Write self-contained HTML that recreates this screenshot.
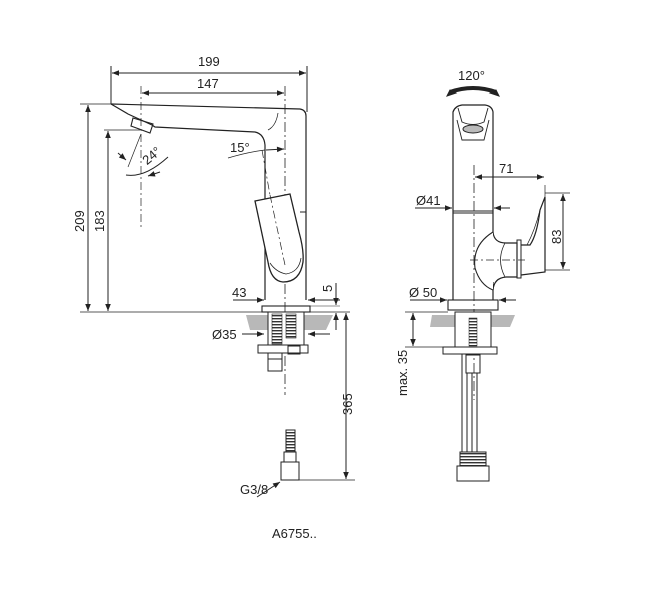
<!DOCTYPE html>
<html><head><meta charset="utf-8"><style>
html,body{margin:0;padding:0;background:#fff;}
svg{display:block;}
text{font-family:"Liberation Sans",sans-serif;font-size:13px;fill:#222;}
</style></head><body>
<svg width="668" height="600" viewBox="0 0 668 600" xmlns="http://www.w3.org/2000/svg">
<defs>
<marker id="a" viewBox="0 0 10 10" refX="10" refY="5" markerWidth="9" markerHeight="7" orient="auto-start-reverse" markerUnits="userSpaceOnUse"><path d="M0,1 L10,5 L0,9 z" fill="#222"/></marker>
<pattern id="th" width="3" height="3" patternUnits="userSpaceOnUse"><rect width="3" height="1.4" fill="#333"/></pattern>
</defs>
<g stroke="#222" stroke-width="1" fill="none">
<!-- LEFT VIEW dims -->
<line x1="111" y1="66" x2="111" y2="104"/>
<line x1="307" y1="66" x2="307" y2="112"/>
<line x1="112" y1="73" x2="306" y2="73" marker-start="url(#a)" marker-end="url(#a)"/>
<line x1="141" y1="86" x2="141" y2="230" stroke-dasharray="8,3,2,3" stroke-width="0.7"/>
<line x1="142" y1="93" x2="284" y2="93" marker-start="url(#a)" marker-end="url(#a)"/>
<line x1="285" y1="86" x2="285" y2="395" stroke-dasharray="10,3,2,3" stroke-width="0.8"/>
<line x1="80" y1="104" x2="111" y2="104" stroke-width="0.7"/>
<line x1="88" y1="105" x2="88" y2="311" marker-start="url(#a)" marker-end="url(#a)"/>
<line x1="104" y1="130" x2="140" y2="130" stroke-width="0.7"/>
<line x1="108" y1="131" x2="108" y2="311" marker-start="url(#a)" marker-end="url(#a)"/>
<line x1="80" y1="312" x2="350" y2="312" stroke-width="0.8"/>
<!-- spout -->
<path d="M111,104 L300,109 Q306,110 306,116 L306,300" stroke-width="1.2"/>
<path d="M111,104 L128,114 L152,125 L155,127 L255,132 Q264,134 265,145 L265,300" stroke-width="1.2"/>
<path d="M278,113 Q276,126 268,130" stroke-width="0.8"/>
<path d="M133,118 L153,124 L150,133 L131,126 z" stroke-width="1.1"/>
<!-- 24 deg -->
<path d="M126,175 Q145,178 168,157" />
<line x1="141" y1="134" x2="128" y2="167" stroke-width="0.7"/>
<line x1="118" y1="153" x2="126" y2="160" marker-end="url(#a)"/>
<line x1="160" y1="172" x2="148" y2="176" marker-end="url(#a)"/>
<!-- 15 deg -->
<path d="M228,158 Q248,152 265,150" stroke-width="0.7"/>
<line x1="266" y1="150" x2="284" y2="149" marker-end="url(#a)"/>
<line x1="262" y1="150" x2="270" y2="195" stroke-dasharray="8,3,2,3" stroke-width="0.7"/>
<!-- lever -->
<path d="M255,201 L290,194 L299,232 Q304,250 303,262 Q300,282 283,282 Q271,281 268,262 Z" stroke-width="1.3" fill="#fff"/>
<path d="M270,263 Q276,272 286,274 Q299,272 301,258" stroke-width="0.8"/>
<line x1="300" y1="212" x2="306" y2="212"/>
<line x1="270" y1="195" x2="285" y2="265" stroke-dasharray="8,3,2,3" stroke-width="0.7"/>
<!-- base -->
<rect x="262" y="306" width="48" height="6" stroke-width="1.1"/>
<line x1="233" y1="300" x2="264" y2="300" marker-end="url(#a)"/>
<line x1="340" y1="300" x2="308" y2="300" marker-end="url(#a)"/>
<line x1="336" y1="283" x2="336" y2="305" marker-end="url(#a)"/>
<line x1="336" y1="330" x2="336" y2="313" marker-end="url(#a)"/>
<line x1="310" y1="306" x2="340" y2="306" stroke-width="0.6"/>
<!-- counter & shank -->
<path d="M246,315 L333,315 L326,330 L250,330 Z" fill="#b8b8b8" stroke="none"/>
<rect x="268" y="312" width="36" height="33" fill="#fff"/>
<rect x="272" y="314" width="10" height="30" fill="url(#th)" stroke-width="0.6"/>
<rect x="286" y="314" width="10" height="24" fill="url(#th)" stroke-width="0.6"/>
<rect x="258" y="345" width="50" height="8" fill="#fff"/>
<rect x="288" y="346" width="12" height="8"/>
<rect x="268" y="353" width="14" height="18"/>
<line x1="268" y1="359" x2="282" y2="359"/>
<line x1="242" y1="334" x2="264" y2="334" marker-end="url(#a)"/>
<line x1="330" y1="334" x2="308" y2="334" marker-end="url(#a)"/>
<!-- 365 -->
<line x1="346" y1="313" x2="346" y2="479" marker-start="url(#a)" marker-end="url(#a)"/>
<line x1="282" y1="480" x2="355" y2="480" stroke-width="0.8"/>
<!-- hose end -->
<rect x="286" y="430" width="9" height="22" fill="url(#th)"/>
<rect x="284" y="452" width="12" height="10"/>
<rect x="281" y="462" width="18" height="18"/>
<line x1="257" y1="497" x2="280" y2="482" marker-end="url(#a)"/>

<!-- RIGHT VIEW -->
<path d="M450,92 Q473,84 496,92" stroke-width="4"/>
<path d="M447,96 L450,90 L456,93 z" fill="#222"/>
<path d="M499,96 L496,90 L490,93 z" fill="#222"/>
<path d="M453,300 L453,112 Q455,106 462,105 L485,105 Q492,106 493,112 L493,232" stroke-width="1.2"/>
<path d="M493,282 L493,300" stroke-width="1.2"/>
<path d="M458,108 L462,122 Q473,127 484,122 L488,108" stroke-width="0.9"/>
<ellipse cx="473" cy="129" rx="10" ry="4" fill="#bbb"/>
<path d="M457,120 L462,140 L484,140 L489,120" stroke-width="0.9"/>
<line x1="474" y1="165" x2="474" y2="400" stroke-dasharray="10,3,2,3" stroke-width="0.8"/>
<line x1="453" y1="211" x2="493" y2="211"/><line x1="453" y1="213" x2="493" y2="213"/>
<path d="M493,232 Q494,243 506,243 L517,243 L517,277 L506,277 Q494,278 493,290" stroke-width="1.2"/>
<path d="M493,232 Q472,245 475,268 Q480,285 493,290" stroke-width="1.1" fill="#fff"/>
<path d="M505,243 Q496,260 505,277" stroke-width="0.8"/>
<line x1="470" y1="260" x2="525" y2="260" stroke-dasharray="8,3,2,3" stroke-width="0.7"/>
<rect x="517" y="240" width="4" height="38"/>
<path d="M521,245 L530,245 Q537,235 540,210 L545,197 L545,272 L521,275" stroke-width="1.2"/>
<path d="M540,210 Q535,230 527,245" stroke-width="0.7"/>
<line x1="545" y1="185" x2="545" y2="197" stroke-width="0.7"/>
<line x1="475" y1="177" x2="544" y2="177" marker-start="url(#a)" marker-end="url(#a)"/>
<line x1="545" y1="193" x2="570" y2="193" stroke-width="0.7"/>
<line x1="545" y1="270" x2="570" y2="270" stroke-width="0.7"/>
<line x1="563" y1="194" x2="563" y2="269" marker-start="url(#a)" marker-end="url(#a)"/>
<line x1="415" y1="208" x2="452" y2="208" marker-end="url(#a)"/>
<line x1="510" y1="208" x2="494" y2="208" marker-end="url(#a)"/>
<line x1="410" y1="300" x2="447" y2="300" marker-end="url(#a)"/>
<line x1="516" y1="300" x2="499" y2="300" marker-end="url(#a)"/>
<rect x="448" y="300" width="50" height="10" stroke-width="1.1"/>
<line x1="405" y1="312" x2="448" y2="312" stroke-width="0.7"/>
<line x1="405" y1="347" x2="443" y2="347" stroke-width="0.7"/>
<line x1="413" y1="313" x2="413" y2="346" marker-start="url(#a)" marker-end="url(#a)"/>
<path d="M432,315 L515,315 L510,327 L430,327 Z" fill="#b8b8b8" stroke="none"/>
<rect x="455" y="312" width="36" height="35" fill="#fff"/>
<rect x="469" y="318" width="8" height="28" fill="url(#th)" stroke-width="0.5"/>
<rect x="443" y="347" width="54" height="7" fill="#fff"/>
<rect x="466" y="355" width="14" height="18"/>
<line x1="462" y1="354" x2="462" y2="452"/><line x1="467" y1="373" x2="467" y2="452"/>
<line x1="472" y1="373" x2="472" y2="452"/><line x1="477" y1="373" x2="477" y2="452"/>
<rect x="460" y="452" width="26" height="14" fill="url(#th)"/>
<rect x="457" y="466" width="32" height="15"/>
</g>
<text x="198" y="66">199</text>
<text x="197" y="88">147</text>
<text x="141" y="161" transform="rotate(-40 150 155)">24°</text>
<text x="230" y="152">15°</text>
<text x="232" y="297">43</text>
<text transform="translate(84,232) rotate(-90)">209</text>
<text transform="translate(104,232) rotate(-90)">183</text>
<text transform="translate(332,292) rotate(-90)">5</text>
<text x="212" y="339">Ø35</text>
<text transform="translate(352,415) rotate(-90)">365</text>
<text x="240" y="494">G3/8</text>
<text x="458" y="80">120°</text>
<text x="499" y="173">71</text>
<text x="416" y="205">Ø41</text>
<text transform="translate(561,244) rotate(-90)">83</text>
<text x="409" y="297">Ø 50</text>
<text transform="translate(407,396) rotate(-90)">max. 35</text>
<text x="272" y="538">A6755..</text>
</svg>
</body></html>
